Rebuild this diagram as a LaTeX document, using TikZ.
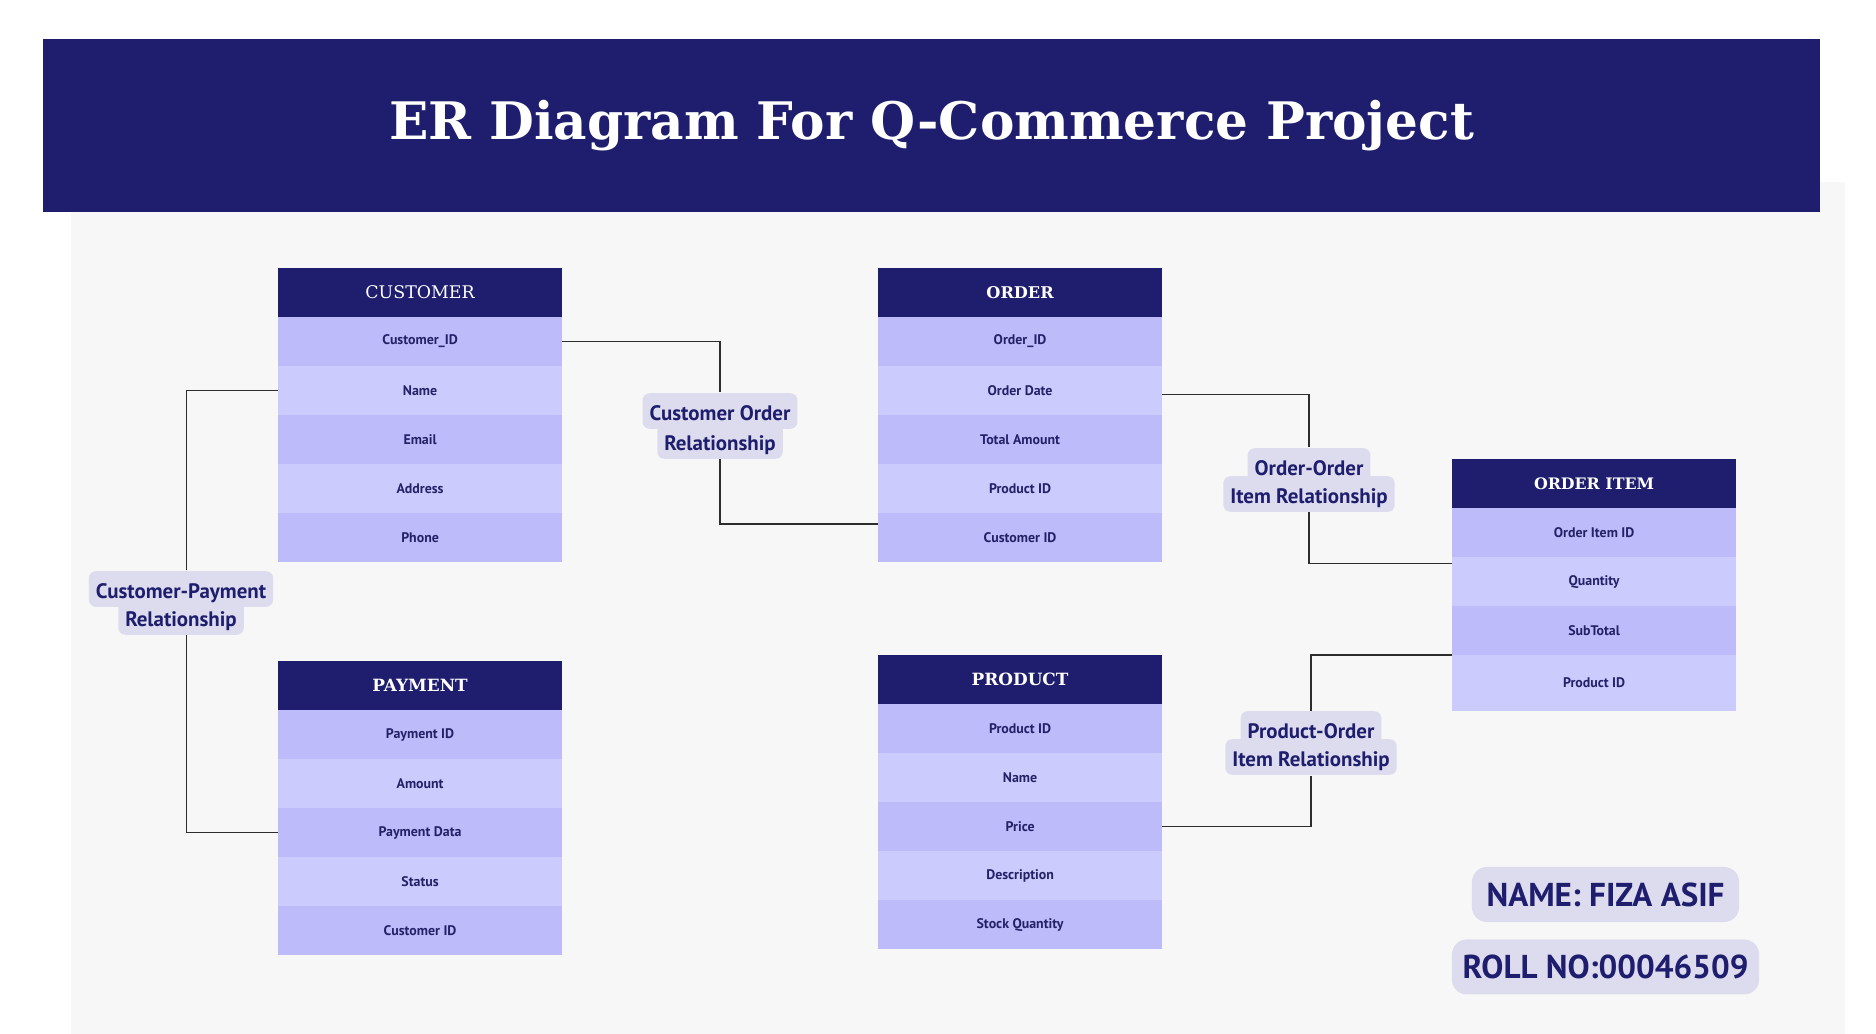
\documentclass[tikz,border=0pt]{standalone}
\usepackage{fontspec}
\setmainfont{DejaVu Serif}
\newfontfamily\sansfont{PT Sans}
\usetikzlibrary{positioning}
\definecolor{navyblue}{RGB}{30,29,110}
\definecolor{rowdark}{RGB}{189,187,250}
\definecolor{rowlight}{RGB}{204,203,254}
\definecolor{panelgray}{RGB}{247,247,247}
\definecolor{relfill}{RGB}{221,220,238}
\definecolor{textnavy}{RGB}{36,33,104}
\definecolor{linegray}{RGB}{45,45,45}

\begin{document}
\begin{tikzpicture}[x=0.01cm, y=-0.01cm, node distance=0pt]
    \tikzstyle{header} = [rectangle, minimum width=2.84cm, minimum height=0.49cm, inner sep=0pt, outer sep=0pt, fill=navyblue, text=white, font=\bfseries\fontsize{4.8}{6}\selectfont]
    \tikzstyle{darkrow} = [rectangle, minimum width=2.84cm, minimum height=0.49cm, inner sep=0pt, outer sep=0pt, fill=rowdark, text=textnavy, font=\sansfont\bfseries\fontsize{3.95}{4.5}\selectfont]
    \tikzstyle{lightrow} = [darkrow, fill=rowlight]
    \tikzstyle{relbox} = [rectangle, rounded corners=0.07cm, fill=relfill, text=navyblue, inner xsep=0.07cm, inner ysep=0pt, minimum height=0.31cm, text height=1.5ex, text depth=0.45ex, font=\sansfont\bfseries\fontsize{5.95}{6}\selectfont]
    \tikzstyle{infobox} = [rectangle, rounded corners=0.15cm, fill=relfill, text=navyblue, inner sep=0pt, minimum height=0.55cm, font=\sansfont\bfseries\fontsize{9.4}{11}\selectfont]
    \tikzstyle{link} = [draw=linegray, line width=0.5pt]

    \useasboundingbox (0,0) rectangle (1876,1034);
    \fill[white] (0,0) rectangle (1876,1034);
    \fill[panelgray] (71,182) rectangle (1845,1034);

    % Title banner
    \node [rectangle, fill=navyblue, minimum width=17.75cm, minimum height=1.73cm, text height=0.82em, text depth=0pt, text=white, font=\bfseries\fontsize{14.7}{18}\selectfont] (banner) at (931.5,125.5) {ER Diagram For Q-Commerce Project};

    % Customer table
    \node [header, anchor=north west, font=\fontsize{4.95}{6}\selectfont] (cust_head) at (278,268) {CUSTOMER};
    \node [darkrow, below=of cust_head] (cust_id) {Customer\_ID};
    \node [lightrow, below=of cust_id] (cust_name) {Name};
    \node [darkrow, below=of cust_name] (cust_email) {Email};
    \node [lightrow, below=of cust_email] (cust_addr) {Address};
    \node [darkrow, below=of cust_addr] (cust_phone) {Phone};

    % Order table
    \node [header, anchor=north west, font=\bfseries\fontsize{4.6}{6}\selectfont] (ord_head) at (878,268) {ORDER};
    \node [darkrow, below=of ord_head] (ord_id) {Order\_ID};
    \node [lightrow, below=of ord_id] (ord_date) {Order Date};
    \node [darkrow, below=of ord_date] (ord_total) {Total Amount};
    \node [lightrow, below=of ord_total] (ord_prod) {Product ID};
    \node [darkrow, below=of ord_prod] (ord_cust) {Customer ID};

    % Payment table
    \node [header, anchor=north west] (pay_head) at (278,661) {PAYMENT};
    \node [darkrow, below=of pay_head] (pay_id) {Payment ID};
    \node [lightrow, below=of pay_id] (pay_amount) {Amount};
    \node [darkrow, below=of pay_amount] (pay_data) {Payment Data};
    \node [lightrow, below=of pay_data] (pay_status) {Status};
    \node [darkrow, below=of pay_status] (pay_cust) {Customer ID};

    % Product table
    \node [header, anchor=north west] (prod_head) at (878,655) {PRODUCT};
    \node [darkrow, below=of prod_head] (prod_id) {Product ID};
    \node [lightrow, below=of prod_id] (prod_name) {Name};
    \node [darkrow, below=of prod_name] (prod_price) {Price};
    \node [lightrow, below=of prod_price] (prod_desc) {Description};
    \node [darkrow, below=of prod_desc] (prod_stock) {Stock Quantity};

    % Order item table
    \node [header, anchor=north west, font=\bfseries\fontsize{4.5}{6}\selectfont] (oi_head) at (1452,459) {ORDER ITEM};
    \node [darkrow, below=of oi_head] (oi_id) {Order Item ID};
    \node [lightrow, below=of oi_id] (oi_qty) {Quantity};
    \node [darkrow, below=of oi_qty] (oi_sub) {SubTotal};
    \node [lightrow, below=of oi_sub, minimum height=0.56cm] (oi_pid) {Product ID};

    % Relationship labels (second line drawn first)
    \node [relbox] (co_rel_b) at (720,441) {Relationship};
    \node [relbox] (co_rel_a) at (720,411) {Customer Order};
    \node [relbox] (cp_rel_b) at (181,617) {Relationship};
    \node [relbox] (cp_rel_a) at (181,589) {Customer-Payment};
    \node [relbox] (oo_rel_b) at (1309,494) {Item Relationship};
    \node [relbox] (oo_rel_a) at (1309,466) {Order-Order};
    \node [relbox] (po_rel_b) at (1311,757) {Item Relationship};
    \node [relbox] (po_rel_a) at (1311,729) {Product-Order};

    % Connectors between tables
    \draw [link] (cust_id.east) -| (co_rel_a.north);
    \draw [link] (co_rel_b.south) |- ([yshift=0.135cm]ord_cust.west);
    \draw [link] (cust_name.west) -| ([xshift=0.055cm]cp_rel_a.north);
    \draw [link] ([xshift=0.055cm]cp_rel_b.south) |- (pay_data.west);
    \draw [link] ([yshift=-0.04cm]ord_date.east) -| (oo_rel_a.north);
    \draw [link] (oo_rel_b.south) |- ([yshift=0.18cm]oi_qty.west);
    \draw [link] (prod_price.east) -| (po_rel_b.south);
    \draw [link] (po_rel_a.north) |- (oi_pid.north west);

    % Student details
    \node [infobox, minimum width=2.67cm] (name_box) at (1605.5,894.5) {NAME: FIZA ASIF};
    \node [infobox, minimum width=3.07cm, below=0.16cm of name_box] (roll_box) {ROLL NO:00046509};
\end{tikzpicture}
\end{document}
